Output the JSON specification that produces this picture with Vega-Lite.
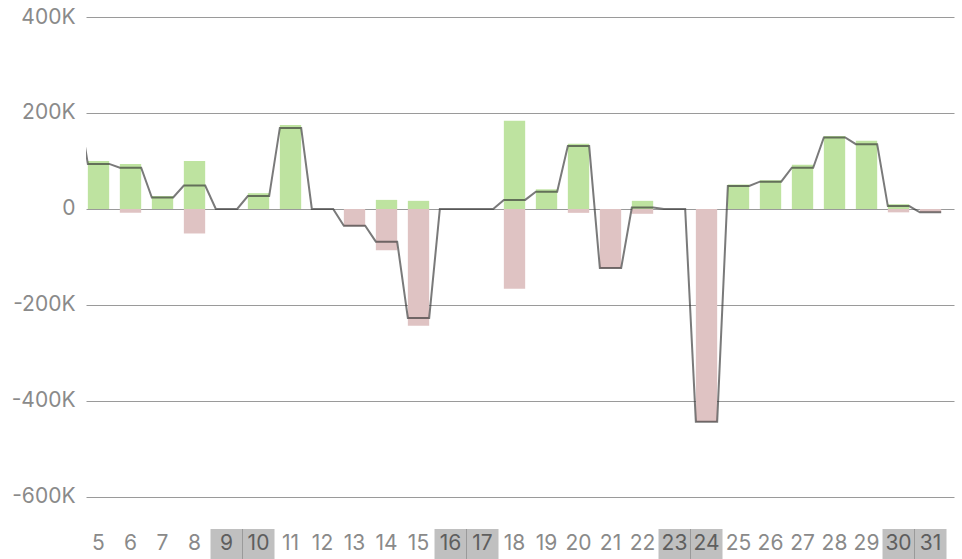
{
  "$schema": "https://vega.github.io/schema/vega-lite/v6.json",
  "width": 868,
  "height": 542,
  "autosize": "none",
  "padding": {"left": 86, "top": 17, "right": 8, "bottom": 0},
  "background": "white",
  "config": {
    "view": {"stroke": null},
    "font": "Inter",
    "axisX": {"disable": true}
  },
  "datasets": {
    "days": [
      {"day": 4, "dow": "Mon", "pos": 230000, "neg": 0, "net": 230000},
      {"day": 5, "dow": "Tue", "pos": 100000, "neg": 0, "net": 94000},
      {"day": 6, "dow": "Wed", "pos": 94000, "neg": -8000, "net": 86000},
      {"day": 7, "dow": "Thu", "pos": 27000, "neg": 0, "net": 24000},
      {"day": 8, "dow": "Fri", "pos": 100000, "neg": -51000, "net": 49000},
      {"day": 9, "dow": "Sat", "pos": 0, "neg": 0, "net": 0},
      {"day": 10, "dow": "Sun", "pos": 33000, "neg": 0, "net": 27000},
      {"day": 11, "dow": "Mon", "pos": 175000, "neg": 0, "net": 169000},
      {"day": 12, "dow": "Tue", "pos": 0, "neg": 0, "net": 0},
      {"day": 13, "dow": "Wed", "pos": 0, "neg": -36000, "net": -35000},
      {"day": 14, "dow": "Thu", "pos": 19000, "neg": -86000, "net": -68000},
      {"day": 15, "dow": "Fri", "pos": 17000, "neg": -243000, "net": -227000},
      {"day": 16, "dow": "Sat", "pos": 0, "neg": 0, "net": 0},
      {"day": 17, "dow": "Sun", "pos": 0, "neg": 0, "net": 0},
      {"day": 18, "dow": "Mon", "pos": 184000, "neg": -166000, "net": 19000},
      {"day": 19, "dow": "Tue", "pos": 41000, "neg": 0, "net": 36000},
      {"day": 20, "dow": "Wed", "pos": 136000, "neg": -8000, "net": 131000},
      {"day": 21, "dow": "Thu", "pos": 0, "neg": -124000, "net": -123000},
      {"day": 22, "dow": "Fri", "pos": 17000, "neg": -10000, "net": 3000},
      {"day": 23, "dow": "Sat", "pos": 0, "neg": 0, "net": 0},
      {"day": 24, "dow": "Sun", "pos": 0, "neg": -444000, "net": -443000},
      {"day": 25, "dow": "Mon", "pos": 51000, "neg": 0, "net": 48000},
      {"day": 26, "dow": "Tue", "pos": 60000, "neg": 0, "net": 57000},
      {"day": 27, "dow": "Wed", "pos": 92000, "neg": 0, "net": 86000},
      {"day": 28, "dow": "Thu", "pos": 152000, "neg": 0, "net": 149000},
      {"day": 29, "dow": "Fri", "pos": 142000, "neg": 0, "net": 135000},
      {"day": 30, "dow": "Sat", "pos": 10000, "neg": -7000, "net": 6000},
      {"day": 31, "dow": "Sun", "pos": 0, "neg": -7000, "net": -7000}
    ]
  },
  "layer": [
    {
      "data": {"name": "days"},
      "transform": [
        {"filter": "datum.day >= 5"},
        {"calculate": "datum.day - 1/3", "as": "bl"},
        {"calculate": "datum.day + 1/3", "as": "br"}
      ],
      "mark": {"type": "rect", "color": "#bee3a0"},
      "encoding": {
        "x": {
          "field": "bl", "type": "quantitative",
          "scale": {"domain": [4.609, 31.734], "nice": false, "zero": false},
          "axis": null
        },
        "x2": {"field": "br"},
        "y": {
          "field": "pos", "type": "quantitative",
          "scale": {"domain": [-729167, 400000], "nice": false, "zero": false},
          "axis": {
            "title": null,
            "values": [-600000, -400000, -200000, 0, 200000, 400000],
            "labelExpr": "datum.value == 0 ? '0' : (datum.value / 1000) + 'K'",
            "domain": false, "ticks": false, "grid": true,
            "gridColor": "#9a9a9a", "gridWidth": 1,
            "labelPadding": 11, "labelFontSize": 21, "labelFont": "Inter",
            "labelColor": "#8a8a8a"
          }
        },
        "y2": {"datum": 0}
      }
    },
    {
      "data": {"name": "days"},
      "transform": [
        {"filter": "datum.day >= 5"},
        {"calculate": "datum.day - 1/3", "as": "bl"},
        {"calculate": "datum.day + 1/3", "as": "br"}
      ],
      "mark": {"type": "rect", "color": "#dfc3c3"},
      "encoding": {
        "x": {"field": "bl", "type": "quantitative", "axis": null},
        "x2": {"field": "br"},
        "y": {"field": "neg", "type": "quantitative"},
        "y2": {"datum": 0}
      }
    },
    {
      "data": {"name": "days"},
      "transform": [
        {"filter": "datum.dow == 'Sat' || datum.dow == 'Sun'"},
        {"calculate": "datum.day - 0.5", "as": "wl"},
        {"calculate": "datum.day + 0.5", "as": "wr"}
      ],
      "mark": {"type": "rect", "color": "#c0c0c0"},
      "encoding": {
        "x": {"field": "wl", "type": "quantitative", "axis": null},
        "x2": {"field": "wr"},
        "y": {"datum": -666667},
        "y2": {"datum": -729167}
      }
    },
    {
      "data": {"name": "days"},
      "transform": [
        {"filter": "datum.dow == 'Sun'"},
        {"calculate": "datum.day - 0.5", "as": "wl"}
      ],
      "mark": {"type": "rule", "color": "#9a9a9a", "strokeWidth": 1},
      "encoding": {
        "x": {"field": "wl", "type": "quantitative", "axis": null},
        "y": {"datum": -666667},
        "y2": {"datum": -729167}
      }
    },
    {
      "data": {"name": "days"},
      "transform": [{"filter": "datum.day >= 5"}],
      "mark": {"type": "text", "fontSize": 21, "font": "Inter", "align": "center", "baseline": "middle"},
      "encoding": {
        "x": {"field": "day", "type": "quantitative", "axis": null},
        "y": {"datum": -697917},
        "text": {"field": "day", "type": "quantitative", "format": "d"},
        "color": {
          "condition": {"test": "datum.dow == 'Sat' || datum.dow == 'Sun'", "value": "#5e5e5e"},
          "value": "#8a8a8a"
        }
      }
    },
    {
      "data": {"name": "days"},
      "transform": [
        {"calculate": "datum.day - 1/3", "as": "left"},
        {"calculate": "datum.day + 1/3", "as": "right"},
        {"fold": ["left", "right"], "as": ["side", "xpos"]}
      ],
      "mark": {"type": "line", "color": "#333333", "opacity": 0.65, "strokeWidth": 2, "clip": true},
      "encoding": {
        "x": {"field": "xpos", "type": "quantitative", "axis": null},
        "y": {"field": "net", "type": "quantitative"},
        "order": {"field": "xpos", "type": "quantitative"}
      }
    },
    {
      "mark": {"type": "rule", "color": "#333333", "opacity": 0.65, "strokeWidth": 3},
      "encoding": {"y": {"datum": 0}}
    }
  ]
}
